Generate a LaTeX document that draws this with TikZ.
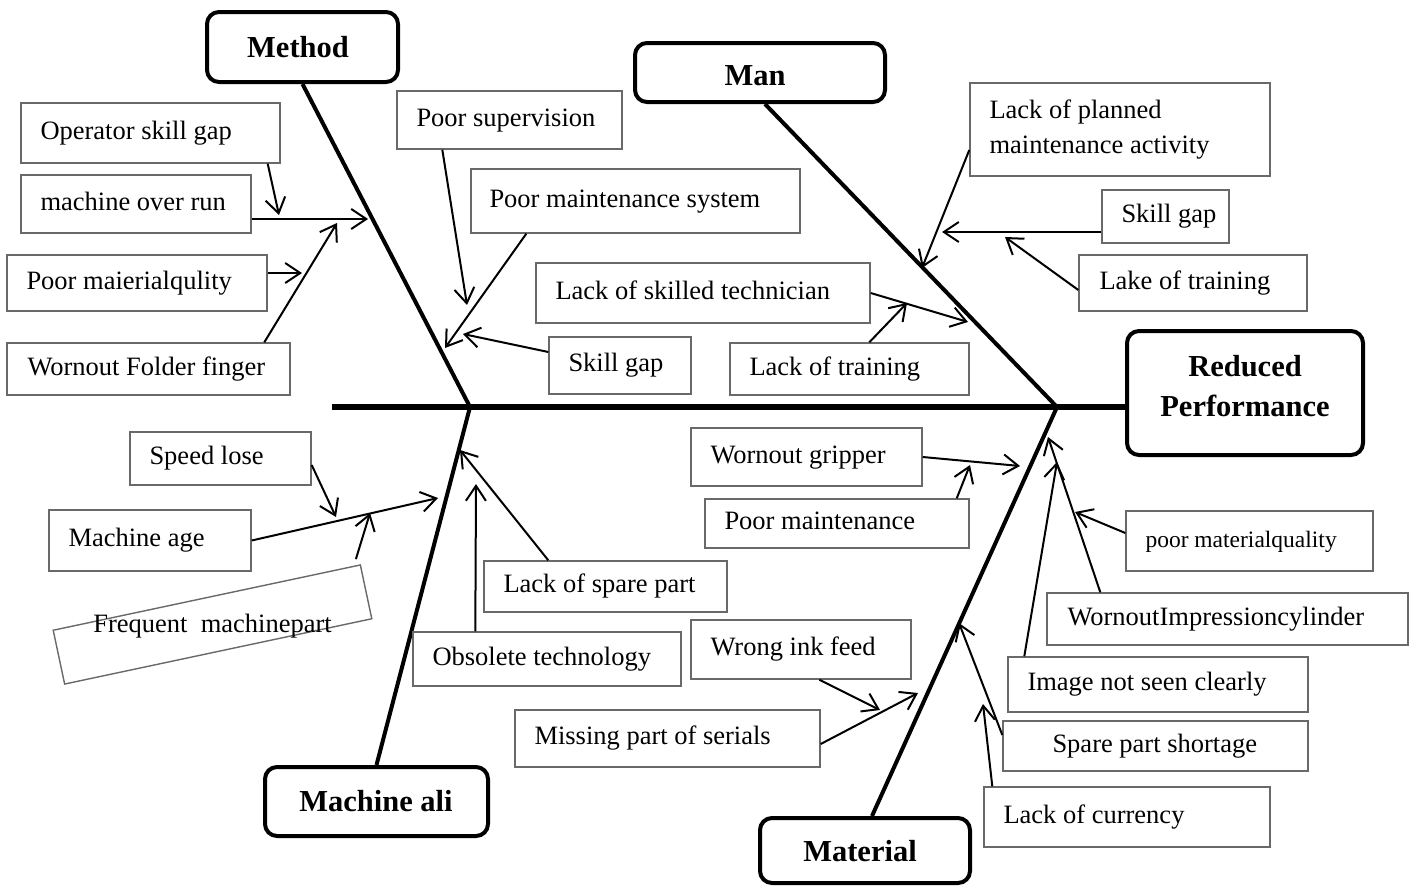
\documentclass[tikz,border=0pt]{standalone}
\usepackage{fontspec}
\setmainfont{Liberation Serif}
\usetikzlibrary{arrows.meta,fit,calc}
\definecolor{boxgray}{RGB}{105,105,105}
\tikzset{
  causebox/.style={draw=boxgray, line width=1.4pt, inner sep=0pt},
  causetext/.style={inner sep=0pt, align=left, text height=0.7em, text depth=0.22em,
    font=\fontsize{26.5}{35}\selectfont},
  catbox/.style={draw, line width=4pt, rounded corners=12pt, inner sep=0pt},
  cattext/.style={inner sep=0pt, align=center, font=\bfseries\fontsize{30.5}{40}\selectfont},
  bone/.style={line width=4pt},
  spine/.style={line width=5.5pt},
  why/.style={line width=2pt, -{Straight Barb[length=15pt,width=20pt]}}
}
% cause box: [text indent]{name}{x1}{y1}{x2}{y2}{text}
\newcommand\whybox[7][20]{%
  \node[causebox, fit={(#3,#4) (#5,#6)}] (#2) {};
  \node[causetext, anchor=west] (#2-t) at ([xshift=#1pt,yshift=-4pt]#2.west) {#7};
}
\begin{document}
\begin{tikzpicture}[x=1pt,y=-1pt]
\useasboundingbox (0,0) rectangle (1416,886);

% main categories and effect
\node[catbox, fit={(207,12) (398,82)}] (method) {};
\node[cattext] (method-t) at (298,47) {Method};
\node[catbox, fit={(635,43) (885,102)}] (man) {};
\node[cattext] (man-t) at (755,76) {Man};
\node[catbox, fit={(265,767) (488,836)}] (machine) {};
\node[cattext] (machine-t) at (376,801) {Machine ali};
\node[catbox, fit={(760,818) (970,883)}] (material) {};
\node[cattext] (material-t) at (860,851) {Material};
\node[catbox, fit={(1127,331) (1363,455)}] (head) {};
\node[cattext] (headlabel) at (1245,386) {Reduced\\Performance};

% spine and bones
\coordinate (tail) at (332,407);
\coordinate (j1) at (470,407);
\coordinate (j2) at (1057,407);
\draw[spine] (tail) -- (tail -| head.west);
\draw[bone] (method.south) -- (j1);
\draw[bone] ([xshift=5pt]man.south) -- (j2);
\draw[bone] (machine.north) -- (j1);
\draw[bone] ([xshift=7pt]material.north) -- (j2);

% Method causes
\whybox{opskill}{21}{103}{280}{163}{Operator skill gap}
\whybox{overrun}{21}{175}{251}{233}{machine over run}
\whybox{poormat}{7}{255}{267}{311}{Poor maierialqulity}
\whybox[21]{folder}{7}{343}{290}{395}{Wornout Folder finger}
\whybox{supervision}{397}{91}{622}{149}{Poor supervision}
\whybox[19]{maintsys}{471}{169}{800}{233}{Poor maintenance system}
\whybox{skillgapM}{549}{337}{691}{394}{Skill gap}

% Man causes
\whybox{skilledtech}{536}{263}{870}{323}{Lack of skilled technician}
\whybox{trainM}{730}{343}{969}{395}{Lack of training}
\node[causebox, fit={(970,83) (1270,176)}] (planned) {};
\node[inner sep=0pt, align=left, font=\fontsize{26.5}{35}\selectfont, anchor=west]
  (planned-t) at ([xshift=20pt]planned.west) {Lack of planned\\maintenance activity};
\whybox{skillgapMan}{1102}{190}{1229}{243}{Skill gap}
\whybox[21]{lake}{1079}{255}{1307}{311}{Lake of training}

% Machine causes
\whybox{speed}{130}{432}{311}{485}{Speed lose}
\whybox{mage}{49}{510}{251}{571}{Machine age}
\node[causebox, minimum width=314pt, minimum height=55pt, rotate=12] (freq) at (212.5,624.5) {};
\node[inner sep=0pt, font=\fontsize{26.5}{35}\selectfont, anchor=base] (freq-t) at (212.5,632) {Frequent\ \ machinepart};
\whybox{spare}{484}{561}{727}{612}{Lack of spare part}
\whybox{obsolete}{413}{632}{681}{686}{Obsolete technology}

% Material causes
\whybox{gripper}{691}{428}{922}{486}{Wornout gripper}
\whybox{poormaint}{705}{499}{969}{548}{Poor maintenance}
\whybox{inkfeed}{691}{620}{911}{679}{Wrong ink feed}
\whybox{missing}{515}{710}{820}{767}{Missing part of serials}
\whybox{poormq}{1126}{511}{1373}{571}{{\fontsize{23.5}{28}\selectfont poor materialquality}}
\whybox[21]{wornimp}{1047}{593}{1408}{645}{WornoutImpressioncylinder}
\whybox{image}{1008}{657}{1308}{712}{Image not seen clearly}
\whybox[50]{spareshort}{1003}{721}{1308}{771}{Spare part shortage}
\whybox{currency}{984}{787}{1270}{847}{Lack of currency}

% arrow targets
\coordinate (t1) at (279,215);
\coordinate (t2) at (368,219);
\coordinate (t3) at (302,273);
\coordinate (t4) at (337,223);
\coordinate (t5) at (467,305);
\coordinate (t6) at (445,348);
\coordinate (t7) at (463,334);
\coordinate (t8) at (922,268);
\coordinate (t9) at (942,232);
\coordinate (t10) at (1005,237);
\coordinate (t11) at (968,322);
\coordinate (t12) at (907,303);
\coordinate (t13) at (438,498);
\coordinate (t14) at (336,517);
\coordinate (t15) at (370,513);
\coordinate (t16) at (460,450);
\coordinate (t17) at (476,484);
\coordinate (t18) at (1020,466);
\coordinate (t19) at (970,465);
\coordinate (t20) at (880,710);
\coordinate (t21) at (918,693);
\coordinate (t22) at (1075,512);
\coordinate (t23) at (1048,437);
\coordinate (t24) at (1057,462);
\coordinate (t25) at (959,623);
\coordinate (t26) at (983,704);

% cause arrows
\draw[why] ([xshift=-13pt]opskill.south east) -- (t1);
\draw[why] ([yshift=-15pt]overrun.east) -- (t2);
\draw[why] ([yshift=10pt]poormat.east) -- (t3);
\draw[why] ([xshift=258pt]folder.north west) -- (t4);
\draw[why] ([xshift=46pt]supervision.south west) -- (t5);
\draw[why] ([xshift=56pt]maintsys.south west) -- (t6);
\draw[why] ([yshift=13.5pt]skillgapM.west) -- (t7);

\draw[why] ([yshift=-20.5pt]planned.west) -- (t8);
\draw[why] ([yshift=-15.5pt]skillgapMan.west) -- (t9);
\draw[why] ([yshift=-7pt]lake.west) -- (t10);
\draw[why] (skilledtech.east) -- (t11);
\draw[why] ([xshift=140pt]trainM.north west) -- (t12);

\draw[why] (mage.east) -- (t13);
\draw[why] ([yshift=-6.5pt]speed.east) -- (t14);
\draw[why] ([xshift=-5pt,yshift=5pt]freq.north east) -- (t15);
\draw[why] ([xshift=65pt]spare.north west) -- (t16);
\draw[why] ([xshift=63pt]obsolete.north west) -- (t17);

\draw[why] (gripper.east) -- (t18);
\draw[why] ([xshift=-13pt]poormaint.north east) -- (t19);
\draw[why] ([xshift=129pt]inkfeed.south west) -- (t20);
\draw[why] ([yshift=-5.5pt]missing.east) -- (t21);
\draw[why] ([yshift=8pt]poormq.west) -- (t22);
\draw[why] ([xshift=54pt]wornimp.north west) -- (t23);
\draw[why] ([xshift=17pt]image.north west) -- (t24);
\draw[why] ([yshift=11pt]spareshort.west) -- (t25);
\draw[why] ([xshift=9pt]currency.north west) -- (t26);
\end{tikzpicture}
\end{document}
